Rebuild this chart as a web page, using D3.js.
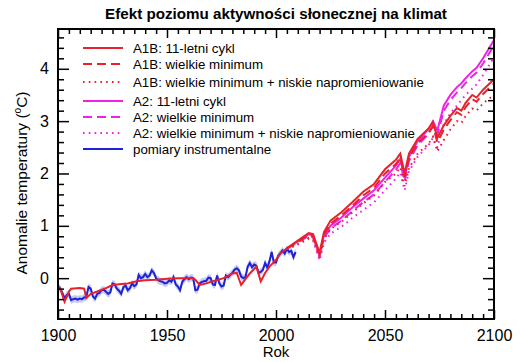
<!DOCTYPE html>
<html>
<head>
<meta charset="utf-8">
<script src="https://cdn.jsdelivr.net/npm/d3@7"></script>
<style>
  body { margin: 0; background: #fff; }
  text { font-family: "Liberation Sans", Arial, sans-serif; }
</style>
</head>
<body>
<svg id="chart" width="522" height="362"></svg>
<script>
// Efekt poziomu aktywności słonecznej na klimat

// model, wspólna część historyczna
var histYears = [1900, 1901, 1903, 1905, 1906, 1910, 1912, 1913, 1915, 1919, 1922, 1925, 1929, 1932, 1936,
                 1940, 1945, 1950, 1955, 1960, 1962, 1963, 1965, 1968, 1971, 1976, 1980, 1982, 1984, 1986,
                 1988, 1991, 1993, 1995, 1997, 2000, 2002, 2005];
var histVals = [-0.15, -0.19, -0.45, -0.26, -0.2, -0.19, -0.2, -0.38, -0.3, -0.24, -0.19, -0.13, -0.11, -0.1, -0.06,
                -0.04, -0.03, -0.01, 0.0, 0.0, 0.0, -0.03, -0.13, -0.1, -0.06, 0.0, 0.09, 0.1, -0.13, -0.02,
                0.09, 0.22, -0.06, 0.1, 0.22, 0.35, 0.47, 0.57];

// scenariusze (od 2005)
var futYears = [2005, 2010, 2015, 2017, 2020, 2022, 2025, 2030, 2035, 2040, 2045, 2050, 2055, 2057, 2059,
                2061, 2065, 2070, 2072, 2074, 2077, 2080, 2083, 2085, 2087, 2090, 2092, 2095, 2100];
var a1bCycle = [0.57, 0.72, 0.86, 0.84, 0.48, 0.88, 1.1, 1.26, 1.45, 1.65, 1.8, 2.08, 2.26, 2.38, 2.0,
                2.38, 2.66, 2.86, 2.98, 2.68, 2.92, 3.1, 3.25, 3.2, 3.35, 3.5, 3.45, 3.6, 3.8];
var a1bMin = [0.57, 0.7, 0.83, 0.8, 0.45, 0.83, 1.04, 1.2, 1.38, 1.58, 1.73, 2.0, 2.18, 2.3, 1.93,
              2.3, 2.58, 2.78, 2.9, 2.6, 2.84, 3.02, 3.17, 3.12, 3.27, 3.42, 3.37, 3.52, 3.72];
var a1bMinLow = [0.55, 0.66, 0.77, 0.74, 0.4, 0.74, 0.94, 1.08, 1.25, 1.43, 1.58, 1.84, 2.0, 2.12, 1.76,
                 2.1, 2.38, 2.57, 2.7, 2.42, 2.64, 2.84, 3.0, 2.96, 3.1, 3.24, 3.2, 3.34, 3.5];
var a2Cycle = [0.57, 0.7, 0.84, 0.82, 0.45, 0.82, 1.0, 1.16, 1.35, 1.52, 1.68, 1.92, 2.15, 2.28, 1.92,
               2.32, 2.62, 2.85, 3.0, 2.82, 3.3, 3.5, 3.65, 3.72, 3.82, 3.95, 4.02, 4.2, 4.55];
var a2Min = [0.57, 0.68, 0.81, 0.78, 0.42, 0.77, 0.95, 1.1, 1.28, 1.45, 1.6, 1.84, 2.07, 2.2, 1.85,
             2.24, 2.54, 2.76, 2.91, 2.74, 3.2, 3.4, 3.55, 3.63, 3.73, 3.86, 3.93, 4.1, 4.45];
var a2MinLow = [0.55, 0.64, 0.75, 0.72, 0.34, 0.68, 0.85, 0.98, 1.15, 1.3, 1.45, 1.68, 1.9, 2.02, 1.68,
                2.04, 2.32, 2.54, 2.68, 2.5, 2.95, 3.15, 3.3, 3.4, 3.5, 3.62, 3.7, 3.88, 4.22];

// pomiary instrumentalne
var obsYears = [1900, 1901, 1902, 1903, 1904, 1905, 1906, 1907, 1908, 1909, 1910, 1911, 1912, 1913, 1914, 1915,
                1916, 1917, 1918, 1919, 1920, 1921, 1922, 1923, 1924, 1925, 1926, 1927, 1928, 1929, 1930, 1931,
                1932, 1933, 1934, 1935, 1936, 1937, 1938, 1939, 1940, 1941, 1942, 1943, 1944, 1945, 1946, 1947,
                1948, 1949, 1950, 1951, 1952, 1953, 1954, 1955, 1956, 1957, 1958, 1959, 1960, 1961, 1962, 1963,
                1964, 1965, 1966, 1967, 1968, 1969, 1970, 1971, 1972, 1973, 1974, 1975, 1976, 1977, 1978, 1979,
                1980, 1981, 1982, 1983, 1984, 1985, 1986, 1987, 1988, 1989, 1990, 1991, 1992, 1993, 1994, 1995,
                1996, 1997, 1998, 1999, 2000, 2001, 2002, 2003, 2004, 2005, 2006, 2007, 2008, 2009];
var obsVals = [-0.17, -0.2, -0.28, -0.39, -0.32, -0.3, -0.42, -0.4, -0.39, -0.41, -0.39, -0.4, -0.37, -0.36, -0.17, -0.2,
               -0.35, -0.39, -0.3, -0.28, -0.23, -0.22, -0.26, -0.3, -0.27, -0.1, -0.12, -0.2, -0.24, -0.3, -0.17, -0.14,
               -0.23, -0.19, -0.1, -0.15, -0.12, 0.06, 0.0, 0.02, 0.08, 0.02, 0.05, 0.15, 0.1, 0.0, -0.04, -0.06,
               -0.07, -0.1, -0.09, -0.04, -0.07, 0.02, -0.12, -0.16, -0.23, -0.07, -0.02, 0.02, -0.02, 0.01, 0.0, -0.23,
               -0.22, -0.1, -0.07, -0.06, -0.05, 0.01, 0.0, -0.12, -0.13, 0.05, -0.1, -0.16, -0.14, 0.05, 0.02, 0.06,
               0.1, 0.16, 0.19, 0.15, 0.03, 0.0, 0.02, 0.22, 0.29, 0.21, 0.26, 0.24, 0.1, 0.12, 0.16, 0.29,
               0.2, 0.32, 0.5, 0.3, 0.3, 0.43, 0.48, 0.53, 0.47, 0.56, 0.5, 0.52, 0.4, 0.5];
var obsErr = 0.07;

var legendLabels = ["A1B: 11-letni cykl", "A1B: wielkie minimum", "A1B: wielkie minimum + niskie napromieniowanie",
                    "A2: 11-letni cykl", "A2: wielkie minimum", "A2: wielkie minimum + niskie napromieniowanie",
                    "pomiary instrumentalne"];
var xTicks = [1900, 1950, 2000, 2050, 2100];
var yTicks = [0, 1, 2, 3, 4];

var red = "#e8212b", magenta = "#ee22e6", blue = "#1d22d6", band = "#b8bdf2";

var svg = d3.select("#chart"),
    margin = {top: 29, right: 28, bottom: 43, left: 58},
    width = +svg.attr("width") - margin.left - margin.right,
    height = +svg.attr("height") - margin.top - margin.bottom;

var x = d3.scaleLinear().domain([1900, 2100]).range([0, width]);
var y = d3.scaleLinear().domain([-0.78, 4.76]).range([height, 0]);

var g = svg.append("g").attr("transform", "translate(" + margin.left + "," + margin.top + ")");

var line = d3.line()
    .x(function (d) { return x(d[0]); })
    .y(function (d) { return y(d[1]); });

function pairs(xs, ys) {
    return xs.map(function (v, i) { return [v, ys[i]]; });
}

var plot = g.append("g");

// pasmo niepewności pomiarów
plot.append("path")
    .datum(pairs(obsYears, obsVals))
    .attr("fill", band)
    .attr("opacity", 0.8)
    .attr("d", d3.area()
        .x(function (d) { return x(d[0]); })
        .y0(function (d) { return y(d[1] - obsErr); })
        .y1(function (d) { return y(d[1] + obsErr); }));

plot.append("path")
    .datum(pairs(obsYears, obsVals))
    .attr("fill", "none")
    .attr("stroke", blue)
    .attr("stroke-width", 2)
    .attr("d", line);

var series = [
    {vals: a2MinLow, color: magenta, dash: "1.6,4.2"},
    {vals: a2Min, color: magenta, dash: "9,5"},
    {vals: a2Cycle, color: magenta, dash: null},
    {vals: a1bMinLow, color: red, dash: "1.6,4.2"},
    {vals: a1bMin, color: red, dash: "9,5"},
    {vals: a1bCycle, color: red, dash: null}
];

series.forEach(function (s) {
    plot.append("path")
        .datum(pairs(futYears, s.vals))
        .attr("fill", "none")
        .attr("stroke", s.color)
        .attr("stroke-width", 2)
        .attr("stroke-dasharray", s.dash)
        .attr("d", line);
});

// model przed 2005
plot.append("path")
    .datum(pairs(histYears, histVals))
    .attr("fill", "none")
    .attr("stroke", red)
    .attr("stroke-width", 2)
    .attr("d", line);

// osie z podziałką do wewnątrz
var xMinor = d3.range(1900, 2101, 5).filter(function (v) { return v % 50 !== 0; });
var yMinor = d3.range(-6, 48, 2).map(function (v) { return v / 10; }).filter(function (v) { return v % 1 !== 0; });

function addAxis(axis, tr) {
    var a = g.append("g").attr("transform", tr).call(axis);
    a.select(".domain").remove();
    a.selectAll("line").attr("stroke", "#000").attr("stroke-width", 1.5);
    return a;
}

addAxis(d3.axisBottom(x).tickValues(xMinor).tickSize(-5).tickFormat(""), "translate(0," + height + ")");
addAxis(d3.axisTop(x).tickValues(xMinor).tickSize(-5).tickFormat(""), "translate(0,0)");
addAxis(d3.axisTop(x).tickValues(xTicks).tickSize(-9).tickFormat(""), "translate(0,0)");
var xa = addAxis(d3.axisBottom(x).tickValues(xTicks).tickSize(-9).tickFormat(d3.format("d")),
    "translate(0," + height + ")");
xa.selectAll("text").attr("font-size", 16).attr("fill", "#000").attr("dy", "0.71em").attr("y", 11);

addAxis(d3.axisLeft(y).tickValues(yMinor).tickSize(-6).tickFormat(""), "translate(0,0)");
addAxis(d3.axisRight(y).tickValues(yMinor).tickSize(-6).tickFormat(""), "translate(" + width + ",0)");
addAxis(d3.axisRight(y).tickValues(yTicks).tickSize(-11).tickFormat(""), "translate(" + width + ",0)");
var ya = addAxis(d3.axisLeft(y).tickValues(yTicks).tickSize(-11).tickFormat(d3.format("d")), "translate(0,0)");
ya.selectAll("text").attr("font-size", 16).attr("fill", "#000").attr("x", -9);

g.append("rect")
    .attr("width", width)
    .attr("height", height)
    .attr("fill", "none")
    .attr("stroke", "#000")
    .attr("stroke-width", 2);

// legenda
var legendY = [48, 64, 82, 101, 117, 133, 149];
var legendStyle = [
    {color: red, dash: null}, {color: red, dash: "9,5"}, {color: red, dash: "1.6,4.2"},
    {color: magenta, dash: null}, {color: magenta, dash: "9,5"}, {color: magenta, dash: "1.6,4.2"},
    {color: blue, dash: null}
];
var legend = svg.append("g");
legendLabels.forEach(function (lab, i) {
    legend.append("line")
        .attr("x1", 83).attr("x2", 123)
        .attr("y1", legendY[i]).attr("y2", legendY[i])
        .attr("stroke", legendStyle[i].color)
        .attr("stroke-width", 2)
        .attr("stroke-dasharray", legendStyle[i].dash);
    legend.append("text")
        .attr("x", 133).attr("y", legendY[i])
        .attr("dy", "0.36em")
        .attr("font-size", 13.3)
        .text(lab);
});

// tytuły
svg.append("text")
    .attr("x", margin.left + width / 2).attr("y", 19)
    .attr("text-anchor", "middle")
    .attr("font-size", 15.2)
    .attr("font-weight", "bold")
    .text("Efekt poziomu aktywności słonecznej na klimat");

svg.append("text")
    .attr("x", margin.left + width / 2).attr("y", 357)
    .attr("text-anchor", "middle")
    .attr("font-size", 15)
    .text("Rok");

var yl = svg.append("text")
    .attr("transform", "translate(27," + (margin.top + height / 2 + 9) + ") rotate(-90)")
    .attr("text-anchor", "middle")
    .attr("font-size", 15.5);
yl.append("tspan").text("Anomalie temperatury (");
yl.append("tspan").attr("font-size", 10).attr("dy", -6).text("o");
yl.append("tspan").attr("dy", 6).text("C)");
</script>
</body>
</html>
